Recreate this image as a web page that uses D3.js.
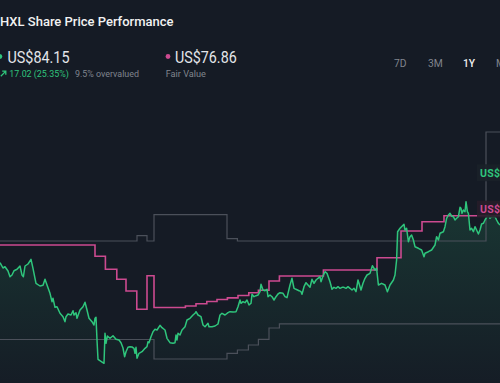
<!DOCTYPE html>
<html>
<head>
<meta charset="utf-8">
<script src="https://cdn.jsdelivr.net/npm/d3@7"></script>
<style>
  html, body { margin: 0; padding: 0; background: #151b25; overflow: hidden; }
  svg { display: block; font-family: Roboto, "Noto Sans", sans-serif; }
</style>
</head>
<body>
<div id="chart-area"></div>
<script>
// price history, [trading day, price US$]
const priceSeries = [
  [0, 67.46], [1.5, 66.4], [2.5, 66.66], [4, 65.8], [5, 64.66], [6, 65.0], [7, 65.86], [8.5, 66.14],
  [10, 66.8], [11, 65.0], [11.7, 64.66], [12.5, 66.8], [14, 67.2], [15.5, 68.14], [16.5, 66.34],
  [18, 63.34], [20, 62.8], [21.5, 62.94], [22.5, 64.14], [23.5, 63.0], [25, 61.34], [26, 59.66],
  [26.5, 60.34], [27.5, 58.54], [28.5, 58.66], [30, 57.34], [31.5, 56.66], [32.5, 55.66], [33, 56.66],
  [34, 57.2], [35.5, 57.0], [36.5, 57.86], [37, 57.0], [38, 57.46], [38.5, 56.34], [40, 58.0],
  [41.5, 58.66], [42.5, 59.54], [43.5, 58.0], [44.5, 56.34], [46, 55.66], [47, 55.0], [47.5, 56.34],
  [48, 56.54], [48.5, 52.0], [49, 48.14], [50.5, 47.74], [52, 47.34], [52.5, 53.34], [53, 51.34],
  [53.7, 52.8], [55, 52.34], [56.5, 52.86], [58, 52.14], [59.5, 52.0], [60.5, 51.46], [61.5, 50.4],
  [62.3, 48.66], [63, 49.66], [64, 50.54], [65, 50.66], [66, 50.6], [67, 50.34], [67.5, 49.34],
  [68, 50.54], [68.5, 48.34], [69.5, 49.34], [71, 49.66], [72.5, 50.34], [73.5, 50.66], [74, 51.66],
  [74.5, 51.46], [75.5, 52.66], [76.5, 53.66], [77.5, 54.14], [78.5, 54.0], [80, 54.94], [81, 54.46],
  [82.5, 54.0], [83.5, 52.34], [85, 51.46], [86.5, 51.34], [87.5, 51.46], [88, 53.0], [88.5, 52.0],
  [89, 53.34], [90, 53.0], [91, 54.0], [92.5, 54.66], [93.5, 56.0], [95, 56.34], [96.5, 57.0],
  [97.5, 57.34], [98, 57.66], [99, 57.0], [100.5, 56.66], [101.5, 55.0], [102.5, 54.66], [104, 55.34],
  [104.5, 54.66], [106, 54.66], [107.5, 54.8], [109, 55.2], [110, 57.0], [111, 57.34], [112.5, 57.0],
  [114, 57.46], [115, 57.66], [116.5, 57.6], [118, 57.66], [119, 58.66], [120, 60.0], [120.5, 59.34],
  [121.5, 59.66], [122.5, 59.46], [123.5, 60.0], [124.5, 59.0], [125.5, 59.34], [126, 61.14],
  [127, 60.66], [128, 60.86], [129, 61.0], [130, 61.66], [130.5, 63.14], [131.5, 62.0], [132.5, 61.86],
  [133.5, 62.14], [134, 60.66], [135, 61.0], [136, 60.66], [137, 60.0], [138, 60.66], [139, 61.2],
  [140, 61.46], [141.5, 61.34], [142.5, 60.66], [143.5, 60.46], [145, 63.0], [146, 64.34], [147, 62.34],
  [148, 62.14], [149.5, 61.86], [150.5, 61.66], [151, 61.14], [152, 62.66], [153, 63.46], [154, 63.0],
  [155, 62.54], [156, 64.14], [157, 63.34], [158, 64.0], [159, 64.34], [160, 64.66], [160.5, 63.66],
  [161.5, 64.8], [162.5, 65.66], [163.5, 65.34], [165, 63.66], [166, 62.14], [167, 62.54], [168, 62.34],
  [169, 62.66], [170, 62.34], [171, 62.54], [172, 62.54], [173, 62.34], [174, 62.66], [175, 62.34],
  [176, 62.0], [177, 62.34], [178, 61.66], [179, 64.0], [179.5, 63.34], [180.5, 62.0], [181.5, 63.34],
  [182.5, 64.34], [183.5, 65.0], [185, 65.34], [186.2, 66.86], [187.5, 66.0], [188.3, 66.34],
  [189.2, 63.0], [190.8, 63.34], [192.5, 63.0], [193.7, 61.66], [195, 63.0], [196.7, 64.0], [197.5, 65.0],
  [198.3, 68.0], [198.8, 73.66], [200, 74.34], [202, 75.14], [202.5, 74.0], [203.3, 74.34],
  [204.2, 71.66], [205, 72.66], [205.8, 73.0], [206.7, 72.0], [207.5, 70.66], [209.2, 70.34],
  [210.8, 70.0], [212, 68.66], [212.5, 69.34], [214.2, 69.66], [215.8, 70.0], [217.5, 71.0],
  [218.3, 72.66], [219.2, 72.0], [220, 73.34], [221.7, 73.66], [222.5, 74.66], [223.3, 76.34],
  [224.2, 77.0], [225, 77.34], [225.8, 76.8], [226.7, 76.66], [227.5, 76.0], [228.3, 76.34],
  [229.2, 76.66], [230, 78.54], [230.5, 78.34], [231, 77.34], [231.7, 78.0], [232.5, 77.66], [233, 79.66],
  [233.7, 77.66], [234.2, 77.34], [235, 74.0], [235.8, 74.34], [236.7, 73.66], [237.5, 74.66],
  [238.3, 74.0], [239.2, 73.2], [240, 74.0], [240.8, 75.2], [241.7, 75.34], [242.5, 76.0], [243.3, 76.54],
  [244.2, 77.0], [245, 76.34], [245.8, 76.66], [247.5, 76.66], [248.3, 76.0], [249.2, 75.34], [250, 75.0]
];

// fair value estimate (steps)
const fairValueSteps = [
  [0, 71.0], [47.5, 68.74], [52.7, 66.14], [58.4, 64.16], [63, 61.8], [68.4, 58.14], [73.5, 64.86],
  [77, 58.5], [92.7, 58.8], [98, 59.24], [103.4, 59.7], [108.5, 60.1], [113.7, 60.42], [119, 60.9],
  [124.4, 61.46], [129.2, 61.94], [134.5, 63.8], [139.7, 64.8], [161.7, 66.0], [188.5, 68.46],
  [200.5, 73.8], [211, 75.66], [222, 76.86], [250, 76.86]
];

// analyst price target high / low (steps)
const targetHighSteps = [
  [0, 71.8], [68.5, 72.86], [73.5, 71.8], [77, 77.06], [113.5, 72.26], [118.7, 71.8], [243, 93.6], [250, 93.6]
];
const targetLowSteps = [
  [0, 52.1], [77, 48.2], [113.5, 49.34], [118.7, 50.0], [124.2, 51.0], [129.2, 52.14], [134.5, 54.4],
  [139.7, 55.24], [250, 55.24]
];

const lastPrice = 84.15;
const fairValue = 76.86;
const ranges = ['7D', '3M', '1Y', 'Max'];

const width = 500, height = 383;
const green = '#2fc57c', pink = '#cc4a90', grey = '#4b505a';

const svg = d3.select('#chart-area').append('svg')
  .attr('width', width)
  .attr('height', height);

svg.append('rect').attr('width', width).attr('height', height).attr('fill', '#151b25');

// text helper: squeeze to the measured width
const label = (tx, ty, txt, size, color, len, weight) => {
  let t = svg.append('text')
    .attr('x', tx).attr('y', ty)
    .attr('fill', color)
    .attr('font-size', `${size}px`)
    .attr('font-weight', weight || 400)
    .text(txt);
  if (len) t.attr('textLength', len).attr('lengthAdjust', 'spacingAndGlyphs');
  return t;
};

// header
label(0, 26, 'HXL Share Price Performance', 13.6, '#f2f2f2', 173.5, 500);

svg.append('circle').attr('cx', -0.3).attr('cy', 56.5).attr('r', 2.6).attr('fill', green);
label(7.5, 62.7, `US$${lastPrice.toFixed(2)}`, 17, '#e4e6ea', 62);

svg.append('circle').attr('cx', 168).attr('cy', 56.5).attr('r', 2.4).attr('fill', pink);
label(175, 62.7, `US$${fairValue.toFixed(2)}`, 17, '#e4e6ea', 61.7);

// up arrow
svg.append('path')
  .attr('d', 'M0.8,76.2 L5.6,71.4 M2.2,71.2 L5.8,71.2 L5.8,74.8')
  .attr('stroke', green)
  .attr('stroke-width', 1.3)
  .attr('fill', 'none');
label(9.3, 76.6, '17.02 (25.35%)', 9.8, green, 59.5);
label(75, 76.6, '9.5% overvalued', 9.8, '#80858e', 64);
label(165.7, 76.6, 'Fair Value', 9.8, '#80858e', 40.3);

// range buttons
const btnX = [394, 428, 463, 496];
ranges.forEach((r, i) => {
  label(btnX[i], 66.8, r, 10.3, r === '1Y' ? '#f2f2f2' : '#80858e', null, r === '1Y' ? 500 : 400);
});

// scales
const x = d3.scaleLinear().domain([0, 250]).range([0, 500]);
const y = d3.scaleLinear().domain([40, 100]).range([400, 100]);

// gradient under price
const defs = svg.append('defs');
const grad = defs.append('linearGradient')
  .attr('id', 'priceFill')
  .attr('gradientUnits', 'userSpaceOnUse')
  .attr('x1', 0).attr('x2', 0)
  .attr('y1', 200).attr('y2', height);
grad.append('stop').attr('offset', 0).attr('stop-color', green).attr('stop-opacity', 0.16);
grad.append('stop').attr('offset', 1).attr('stop-color', green).attr('stop-opacity', 0.01);

svg.append('path')
  .datum(priceSeries)
  .attr('fill', 'url(#priceFill)')
  .attr('d', d3.area().x(d => x(d[0])).y0(height).y1(d => y(d[1])));

const stepLine = d3.line().x(d => x(d[0])).y(d => y(d[1])).curve(d3.curveStepAfter);

[targetHighSteps, targetLowSteps].forEach(s => {
  svg.append('path')
    .datum(s)
    .attr('fill', 'none')
    .attr('stroke', grey)
    .attr('stroke-width', 1.2)
    .attr('d', stepLine);
});

svg.append('path')
  .datum(fairValueSteps)
  .attr('fill', 'none')
  .attr('stroke', pink)
  .attr('stroke-width', 1.6)
  .attr('d', stepLine);

svg.append('path')
  .datum(priceSeries)
  .attr('fill', 'none')
  .attr('stroke', green)
  .attr('stroke-width', 1.5)
  .attr('stroke-linejoin', 'round')
  .attr('d', d3.line().x(d => x(d[0])).y(d => y(d[1])));

// end labels
const endLabels = [
  { value: lastPrice, color: green, bg: '#1a2129' },
  { value: fairValue, color: pink, bg: '#261d29' }
];
endLabels.forEach(l => {
  const bottom = y(l.value) + 2;
  svg.append('rect')
    .attr('x', 477).attr('y', bottom - 17)
    .attr('width', 60).attr('height', 17)
    .attr('fill', l.bg)
    .attr('opacity', 0.9);
  label(480, bottom - 4.5, `US$${l.value.toFixed(2)}`, 10.5, l.color, null, 700)
    .attr('letter-spacing', '0.3px');
});
</script>
</body>
</html>
